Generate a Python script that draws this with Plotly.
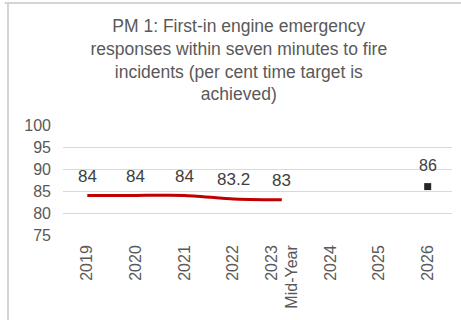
import plotly.graph_objects as go

# data
years = ["2019", "2020", "2021", "2022", "2023<br>Mid-Year", "2024", "2025", "2026"]
actual_years = ["2019", "2020", "2021", "2022", "2023<br>Mid-Year"]
actual_values = [84, 84, 84, 83.2, 83]
target_years = ["2026"]
target_values = [86]

grey = "#595959"
font_family = "Arial, Liberation Sans, sans-serif"

fig = go.Figure()
fig.add_trace(go.Scatter(
    x=actual_years, y=actual_values,
    mode="lines", name="Actual",
    line=dict(color="#C00000", width=3, shape="spline", smoothing=0.5)))
fig.add_trace(go.Scatter(
    x=target_years, y=target_values,
    mode="markers", name="Target",
    marker=dict(symbol="square", size=7, color="#262626")))

# data labels above the points
for xv, yv in zip(actual_years, actual_values):
    fig.add_annotation(x=years.index(xv), y=yv, text=f"{yv:g}", showarrow=False,
                       yanchor="middle", yshift=19,
                       font=dict(size=17, color="#404040"))
for xv, yv in zip(target_years, target_values):
    fig.add_annotation(x=years.index(xv), y=yv, text=f"{yv:g}", showarrow=False,
                       yanchor="middle", yshift=21,
                       font=dict(size=16, color="#404040"))

fig.update_layout(
    width=461, height=320,
    paper_bgcolor="white", plot_bgcolor="white",
    margin=dict(l=63, r=9, t=125, b=85),
    showlegend=False,
    font=dict(family=font_family, color=grey, size=16),
    title=dict(
        text=("PM 1: First-in engine emergency<br>responses within seven minutes to fire"
              "<br>incidents (per cent time target is<br>achieved)"),
        x=0.518, xanchor="center", xref="container",
        y=0.90, yanchor="top", yref="container",
        font=dict(size=17.5, color=grey, family=font_family)),
    shapes=[
        dict(type="line", xref="paper", yref="paper", x0=-0.15, x1=1.05, y0=2.109, y1=2.109,
             line=dict(color="#d4d4d4", width=2)),
        dict(type="line", xref="paper", yref="paper", x0=-0.1414, x1=-0.1414, y0=-1, y1=2.12,
             line=dict(color="#d4d4d4", width=2)),
    ],
)
fig.update_xaxes(
    type="category", categoryorder="array", categoryarray=years,
    tickvals=years, ticktext=years, range=[-0.5, len(years) - 0.5],
    tickangle=-90, showgrid=False, showline=False, ticks="",
    ticklabelstandoff=6,
    tickfont=dict(size=16, color=grey))
fig.update_yaxes(
    range=[75, 100], dtick=5, showgrid=True, gridcolor="#d9d9d9", gridwidth=1,
    zeroline=False, showline=False, ticks="",
    ticklabelstandoff=11,
    tickfont=dict(size=16, color=grey))

fig.write_html("out.html", config={"displayModeBar": False},
               post_script="document.body.style.margin='0';")
